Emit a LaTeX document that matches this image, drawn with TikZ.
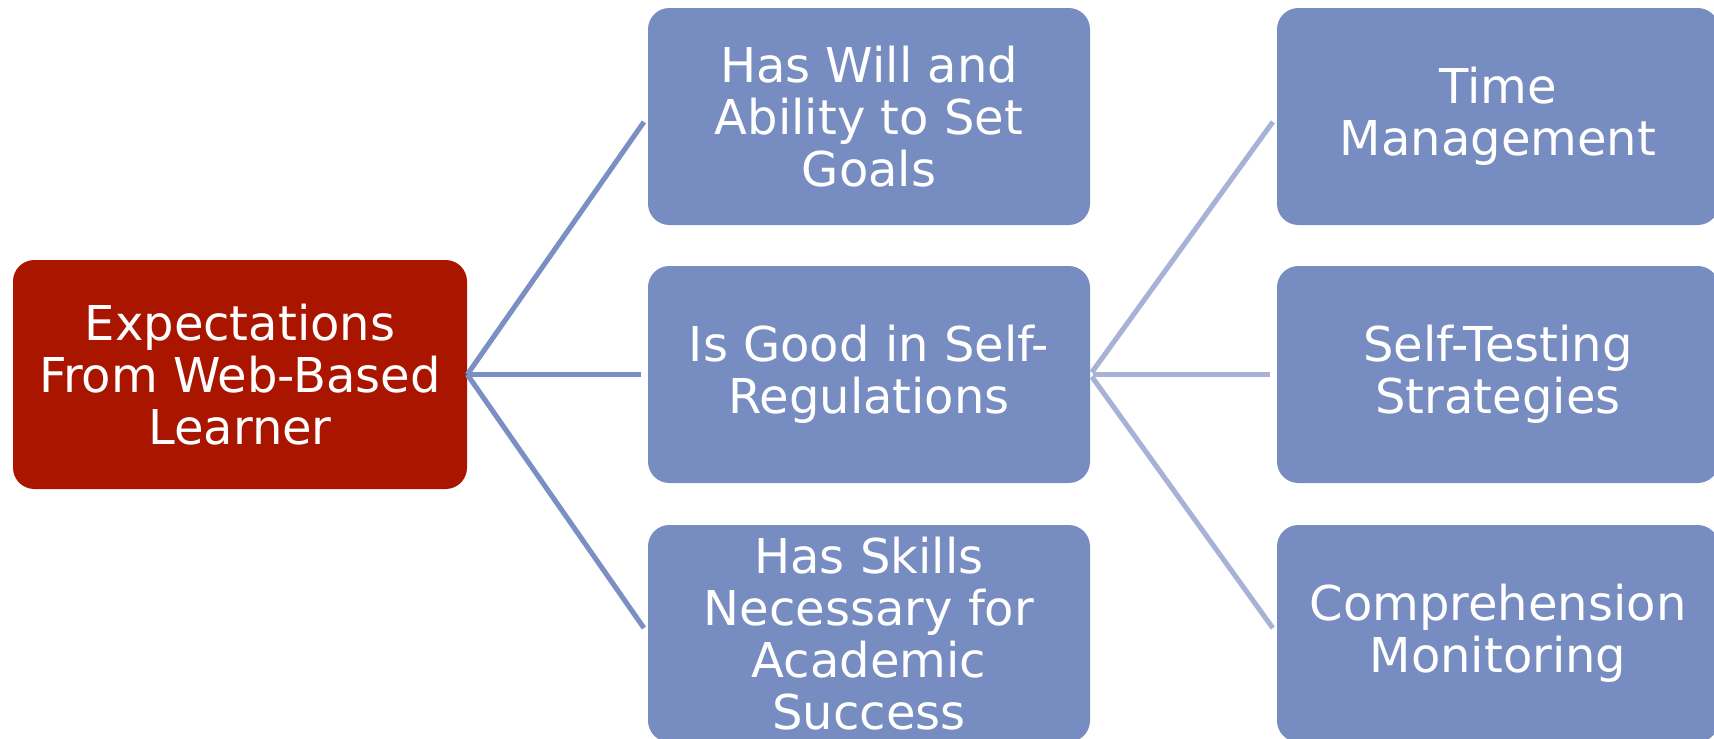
\documentclass[tikz,border=0pt]{standalone}
\usepackage{fontspec}
\setmainfont{DejaVu Sans}
\definecolor{boxblue}{RGB}{119,140,192}
\definecolor{rootred}{RGB}{170,21,0}
\definecolor{lineblue}{RGB}{122,143,196}
\definecolor{linelight}{RGB}{168,178,214}
\begin{document}
\begin{tikzpicture}[x=0.75pt,y=-0.75pt,
  box/.style={rectangle, rounded corners=16pt, fill=boxblue, text=white, align=center,
    minimum width=442*0.75pt, minimum height=217*0.75pt, inner sep=0pt,
    font=\fontsize{36}{38.8}\selectfont},
  rootbox/.style={box, fill=rootred, minimum width=454*0.75pt, minimum height=229*0.75pt},
  conn/.style={draw=lineblue, line width=3.8pt, shorten >=5pt},
  connlight/.style={draw=linelight, line width=3.8pt, shorten >=5pt, shorten <=2pt}]
\useasboundingbox (0,0) rectangle (1714,739);
\clip (0,0) rectangle (1714,739);
\node[rootbox] (root) at (240,374.5) {Expectations\\From Web-Based\\Learner};
\node[box] (m1) at (869,116.5) {Has Will and\\Ability to Set\\Goals};
\node[box] (m2) at (869,374.5) {Is Good in Self-\\Regulations};
\node[box] (m3) at (869,633.5) {Has Skills\\Necessary for\\Academic\\Success};
\node[box] (r1) at (1498,116.5) {Time\\Management};
\node[box] (r2) at (1498,374.5) {Self-Testing\\Strategies};
\node[box] (r3) at (1498,633.5) {Comprehension\\Monitoring};
\draw[conn] (root.east) -- (m1.west);
\draw[conn] (root.east) -- (m2.west);
\draw[conn] (root.east) -- (m3.west);
\draw[connlight] (m2.east) -- (r1.west);
\draw[connlight] (m2.east) -- (r2.west);
\draw[connlight] (m2.east) -- (r3.west);
\end{tikzpicture}
\end{document}
